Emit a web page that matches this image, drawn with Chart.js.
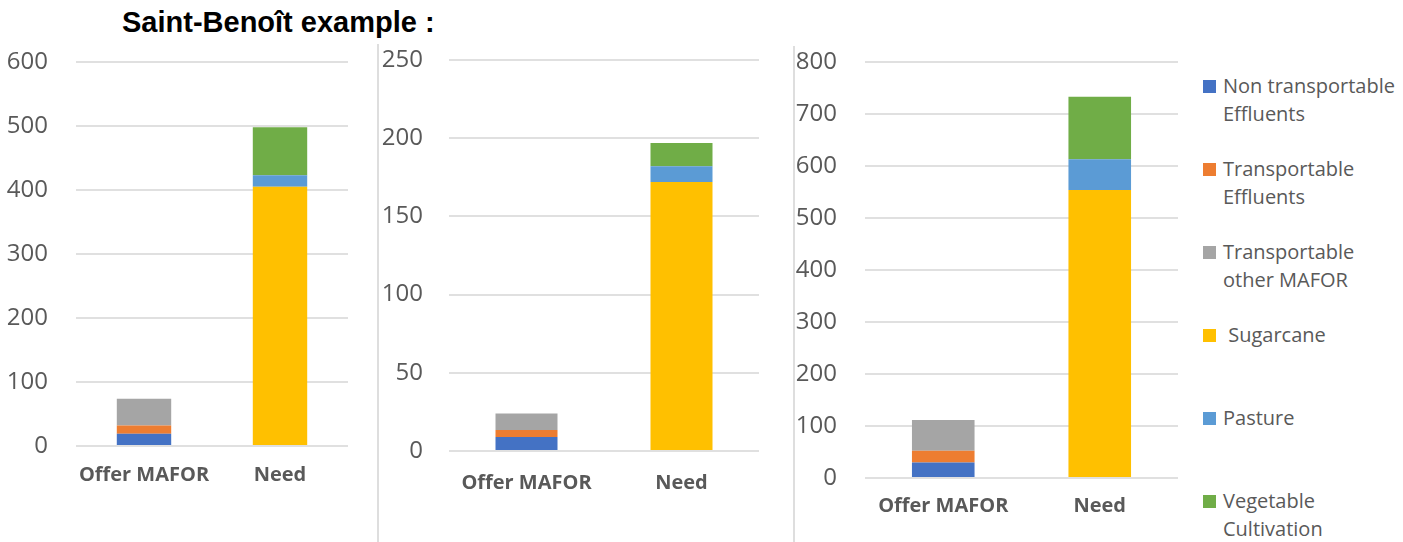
<!DOCTYPE html>
<html>
<head>
<meta charset="utf-8">
<script src="https://cdn.jsdelivr.net/npm/chart.js@4/dist/chart.umd.min.js"></script>
<style>
  html, body { margin: 0; padding: 0; background: #fff; }
  body { width: 1403px; height: 542px; position: relative; overflow: hidden; }
  canvas { position: absolute; }
  #title { position: absolute; left: 122px; top: 6px; font: bold 29px "Liberation Sans", Arial, sans-serif; color: #000; white-space: nowrap; }
  .sep { position: absolute; width: 2px; background: #dedede; }
  .leg { position: absolute; left: 1203px; font: 20px "Open Sans", sans-serif; color: #595959; }
  .leg .sw { position: absolute; left: 0; width: 13px; height: 13px; }
  .leg .tx { position: absolute; left: 20px; white-space: pre; line-height: 28.5px; }
</style>
</head>
<body>
<div id="title">Saint-Benoît example :</div>
<div class="sep" style="left:377px; top:44px; height:498px;"></div>
<div class="sep" style="left:793px; top:46px; height:496px;"></div>
<canvas id="c1" width="360" height="470" style="left:0px; top:40px;"></canvas>
<canvas id="c2" width="385" height="470" style="left:380px; top:40px;"></canvas>
<canvas id="c3" width="384" height="500" style="left:796px; top:40px;"></canvas>
<div id="legend"></div>
<script>
// ---- data ----
const categories = ["Offer MAFOR", "Need"];
const seriesNames = ["Non transportable\nEffluents", "Transportable\nEffluents", "Transportable\nother MAFOR", " Sugarcane", "Pasture", "Vegetable\nCultivation"];
const seriesColors = ["#4472C4", "#ED7D31", "#A5A5A5", "#FFC000", "#5B9BD5", "#70AD47"];

// chart 1
const c1NonTransEffluents = [19, 0];
const c1TransEffluents    = [13, 0];
const c1TransOther        = [42, 0];
const c1Sugarcane         = [0, 405];
const c1Pasture           = [0, 18];
const c1Vegetable         = [0, 75];
const c1Ticks = { max: 600, step: 100 };

// chart 2
const c2NonTransEffluents = [9, 0];
const c2TransEffluents    = [4.5, 0];
const c2TransOther        = [10.5, 0];
const c2Sugarcane         = [0, 172];
const c2Pasture           = [0, 10];
const c2Vegetable         = [0, 15];
const c2Ticks = { max: 250, step: 50 };

// chart 3
const c3NonTransEffluents = [30, 0];
const c3TransEffluents    = [22.5, 0];
const c3TransOther        = [59, 0];
const c3Sugarcane         = [0, 554];
const c3Pasture           = [0, 59];
const c3Vegetable         = [0, 120];
const c3Ticks = { max: 800, step: 100 };

// ---- build ----
function makeChart(id, series, ticks, lay) {
  const datasets = series.map((d, i) => ({
    label: seriesNames[i].replace("\n", " ").trim(),
    data: d,
    backgroundColor: seriesColors[i],
    borderWidth: 0,
    stack: "s",
    categoryPercentage: 1.0,
    barPercentage: 0.4
  }));
  return new Chart(document.getElementById(id), {
    type: "bar",
    data: { labels: categories, datasets },
    options: {
      responsive: false,
      animation: false,
      devicePixelRatio: 1,
      layout: { padding: { top: lay.top, right: lay.right, left: 0, bottom: 0 } },
      plugins: { legend: { display: false }, tooltip: { enabled: false } },
      scales: {
        x: {
          stacked: true,
          grid: { display: false, drawTicks: false },
          border: { display: false },
          ticks: { color: "#595959", font: { family: "Open Sans", size: 20, weight: "bold" }, padding: lay.xPad, maxRotation: 0 },
          afterFit: s => { s.height = lay.xH; }
        },
        y: {
          stacked: true,
          min: 0, max: ticks.max,
          grid: { color: "#e0e0e0", lineWidth: 2, drawTicks: true, tickLength: lay.yPad, tickColor: "rgba(0,0,0,0)" },
          border: { display: false },
          ticks: { stepSize: ticks.step, color: "#595959", font: { family: "Open Sans", size: 24 }, padding: 0 },
          afterFit: s => { s.width = lay.yW; }
        }
      }
    }
  });
}

makeChart("c1", [c1NonTransEffluents, c1TransEffluents, c1TransOther, c1Sugarcane, c1Pasture, c1Vegetable], c1Ticks,
  { top: 22, right: 12, xH: 64, xPad: 17, yW: 76, yPad: 28 });
makeChart("c2", [c2NonTransEffluents, c2TransEffluents, c2TransOther, c2Sugarcane, c2Pasture, c2Vegetable], c2Ticks,
  { top: 20, right: 6, xH: 59, xPad: 20, yW: 69, yPad: 26 });
makeChart("c3", [c3NonTransEffluents, c3TransEffluents, c3TransOther, c3Sugarcane, c3Pasture, c3Vegetable], c3Ticks,
  { top: 22, right: 2, xH: 62, xPad: 16, yW: 69, yPad: 28 });

// legend (HTML, built from the series arrays)
const legend = document.getElementById("legend");
seriesNames.forEach((name, i) => {
  const cy = 86 + 83 * i;
  const item = document.createElement("div");
  item.className = "leg";
  item.style.top = (cy - 14.25) + "px";
  const sw = document.createElement("div");
  sw.className = "sw";
  sw.style.background = seriesColors[i];
  sw.style.top = (14.25 - 6.5) + "px";
  const tx = document.createElement("div");
  tx.className = "tx";
  tx.textContent = name;
  item.appendChild(sw);
  item.appendChild(tx);
  legend.appendChild(item);
});
</script>
</body>
</html>
